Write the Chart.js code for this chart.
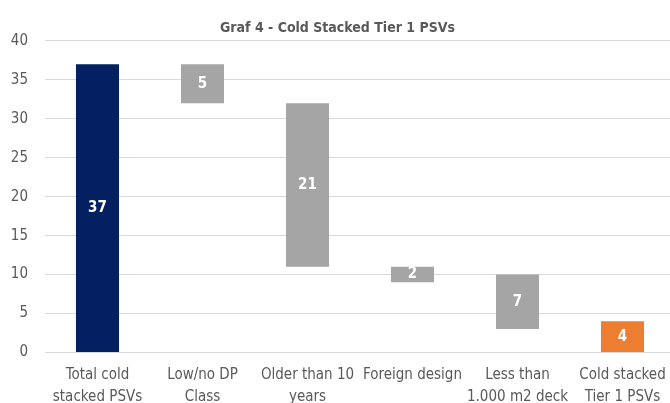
<!DOCTYPE html>
<html>
<head>
<meta charset="utf-8">
<script src="https://cdn.jsdelivr.net/npm/chart.js@4/dist/chart.umd.min.js"></script>
<style>
  html, body { margin: 0; padding: 0; background: #fff; overflow: hidden; }
  #wrap { width: 675px; height: 412px; position: relative; }
</style>
</head>
<body>
<div id="wrap"><canvas id="chart"></canvas></div>
<script>
// Chart data
const categories = [
  ['Total cold', 'stacked PSVs'],
  ['Low/no DP', 'Class'],
  ['Older than 10', 'years'],
  ['Foreign design'],
  ['Less than', '1.000 m2 deck'],
  ['Cold stacked', 'Tier 1 PSVs']
];
const barStarts = [0, 32, 11, 9, 3, 0];
const barEnds = [37, 37, 32, 11, 10, 4];
const barLabels = [37, 5, 21, 2, 7, 4];
const barColors = ['#042060', '#a5a5a5', '#a5a5a5', '#a5a5a5', '#a5a5a5', '#ed7d31'];

const fontFamily = '"Liberation Sans Narrow", "DejaVu Sans Condensed", sans-serif';

// Simple plugin to write the value in the middle of each bar
const barValuePlugin = {
  id: 'barValues',
  afterDatasetsDraw(chart) {
    const ctx = chart.ctx;
    const meta = chart.getDatasetMeta(0);
    ctx.save();
    ctx.fillStyle = '#ffffff';
    ctx.font = 'bold 15px ' + fontFamily;
    ctx.textAlign = 'center';
    ctx.textBaseline = 'middle';
    meta.data.forEach((bar, i) => {
      const y = (bar.y + bar.base) / 2;
      ctx.fillText(String(barLabels[i]), bar.x, y);
    });
    ctx.restore();
  }
};

const ctx = document.getElementById('chart').getContext('2d');
new Chart(ctx, {
  type: 'bar',
  data: {
    labels: categories,
    datasets: [{
      data: barStarts.map((s, i) => [s, barEnds[i]]),
      backgroundColor: barColors,
      borderWidth: 0,
      barPercentage: 0.41,
      categoryPercentage: 1
    }]
  },
  options: {
    responsive: true,
    maintainAspectRatio: false,
    animation: false,
    layout: { padding: { left: 0, right: 0, top: 0, bottom: 0 } },
    scales: {
      x: {
        grid: { display: false },
        border: { display: false },
        ticks: {
          color: '#595959',
          font: { family: fontFamily, size: 15, lineHeight: 1.45 },
          padding: 4,
          maxRotation: 0,
          autoSkip: false
        }
      },
      y: {
        min: 0,
        max: 40,
        afterFit(scale) {
          scale.width = 45; // keep plot area starting where the reference does
        },
        ticks: {
          stepSize: 5,
          color: '#595959',
          font: { family: fontFamily, size: 15 },
          padding: 17
        },
        grid: { color: '#d9d9d9', lineWidth: 1, tickLength: 0 },
        border: { display: false }
      }
    },
    plugins: {
      legend: { display: false },
      tooltip: { enabled: false },
      title: {
        display: true,
        text: 'Graf 4 - Cold Stacked Tier 1 PSVs',
        color: '#595959',
        font: { family: fontFamily, size: 14, weight: 'bold' },
        padding: { top: 20, bottom: 4 }
      }
    }
  },
  plugins: [barValuePlugin]
});
</script>
</body>
</html>
